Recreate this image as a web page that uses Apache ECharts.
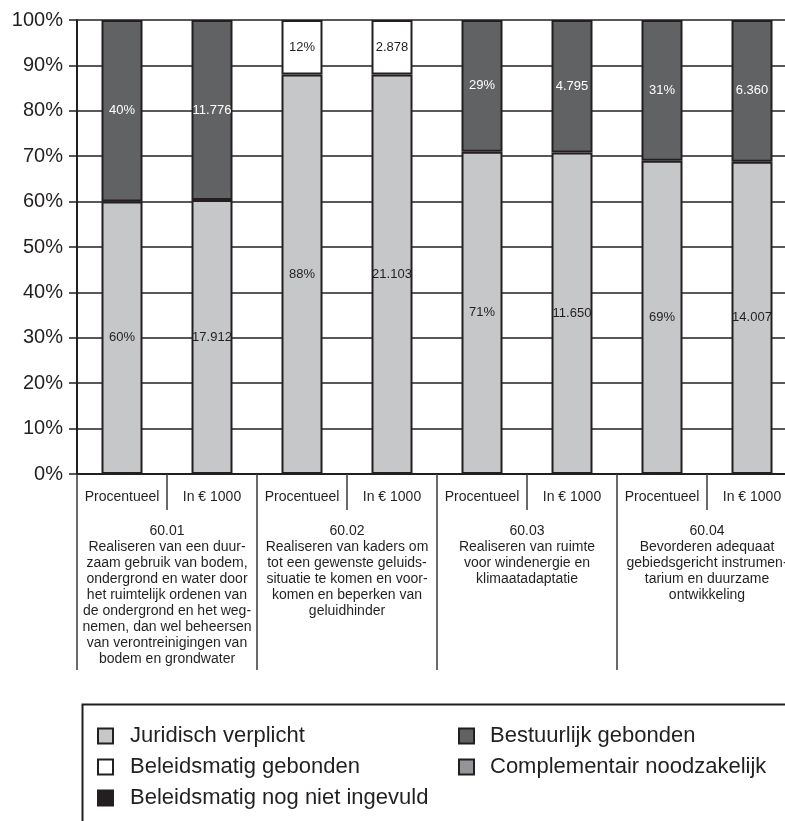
<!DOCTYPE html>
<html>
<head>
<meta charset="utf-8">
<script src="https://cdn.jsdelivr.net/npm/echarts@6/dist/echarts.min.js"></script>
<style>
  html, body { margin: 0; padding: 0; background: #fff; }
  #main { width: 785px; height: 821px; }
</style>
</head>
<body>
<div id="main"></div>
<script>
// categorieën
const subLabels = ['Procentueel', 'In € 1000'];
const groups = [
  '60.01\nRealiseren van een duur-\nzaam gebruik van bodem,\nondergrond en water door\nhet ruimtelijk ordenen van\nde ondergrond en het weg-\nnemen, dan wel beheersen\nvan verontreinigingen van\nbodem en grondwater',
  '60.02\nRealiseren van kaders om\ntot een gewenste geluids-\nsituatie te komen en voor-\nkomen en beperken van\ngeluidhinder',
  '60.03\nRealiseren van ruimte\nvoor windenergie en\nklimaatadaptatie',
  '60.04\nBevorderen adequaat\ngebiedsgericht instrumen-\ntarium en duurzame\nontwikkeling'
];

// procentueel
const juridischPct = [60, 88, 71, 69];
const bestuurlijkPct = [40, null, 29, 31];
const beleidsPct = [null, 12, null, null];

// in € 1000
const juridischBedrag = [17912, 21103, 11650, 14007];
const bestuurlijkBedrag = [11776, null, 4795, 6360];
const beleidsBedrag = [null, 2878, null, null];

const ink = '#231f20';
const font = 'Liberation Sans, Arial, sans-serif';

const categories = [];
groups.forEach(function () { categories.push(subLabels[0], subLabels[1]); });

function totaal(i) {
  return (juridischBedrag[i] || 0) + (bestuurlijkBedrag[i] || 0) + (beleidsBedrag[i] || 0);
}

function bouw(pct, bedrag) {
  const out = [];
  for (let i = 0; i < groups.length; i++) {
    out.push(pct[i] == null ? null : { value: pct[i], label: pct[i] + '%' });
    out.push(bedrag[i] == null ? null : {
      value: bedrag[i] / totaal(i) * 100,
      label: Math.floor(bedrag[i] / 1000) + '.' + String(bedrag[i] % 1000).padStart(3, '0')
    });
  }
  return out;
}

function serie(naam, kleur, tekstkleur, data) {
  return {
    name: naam,
    type: 'bar',
    stack: 'a',
    barWidth: 41,
    itemStyle: { color: kleur, borderColor: ink, borderWidth: 2 },
    label: {
      show: true,
      position: 'inside',
      color: tekstkleur,
      fontSize: 13,
      fontFamily: font,
      formatter: function (p) { return p.data ? p.data.label : ''; }
    },
    data: data
  };
}

const legendText = { color: ink, fontSize: 22, fontFamily: font, lineHeight: 22 };

const myChart = echarts.init(document.getElementById('main'));

const option = {
  animation: false,
  backgroundColor: '#fff',
  grid: { left: 77, top: 20, width: 720, height: 454, outerBoundsMode: 'none' },
  xAxis: [
    {
      type: 'category',
      data: categories,
      axisLine: { lineStyle: { color: ink, width: 2 } },
      axisTick: { show: true, interval: 0, length: 36, lineStyle: { color: '#3a3a3a', width: 1.5 } },
      axisLabel: { color: ink, fontSize: 14, fontFamily: font, margin: 16, interval: 0 }
    },
    {
      type: 'category',
      position: 'bottom',
      offset: 0,
      data: groups,
      axisLine: { show: false },
      axisTick: { show: true, interval: 0, length: 196, lineStyle: { color: '#3a3a3a', width: 1.5 } },
      axisLabel: {
        color: ink, fontSize: 14, fontFamily: font, margin: 49,
        lineHeight: 16, verticalAlign: 'top', interval: 0
      }
    }
  ],
  yAxis: {
    type: 'value',
    min: 0,
    max: 100,
    interval: 10,
    axisLine: { show: true, lineStyle: { color: ink, width: 2 } },
    axisTick: { show: true, length: 8, lineStyle: { color: ink, width: 1.5 } },
    axisLabel: { formatter: '{value}%', color: ink, fontSize: 20, fontFamily: font, margin: 14 },
    splitLine: { lineStyle: { color: ink, width: 1.5 } }
  },
  legend: [
    {
      data: ['Juridisch verplicht', 'Beleidsmatig gebonden', 'Beleidsmatig nog niet ingevuld'],
      orient: 'vertical',
      left: 97,
      top: 725,
      padding: 0,
      icon: 'rect',
      itemWidth: 15,
      itemHeight: 15,
      itemGap: 9,
      itemStyle: { borderColor: ink, borderWidth: 2 },
      textStyle: Object.assign({ padding: [0, 0, 0, 12] }, legendText)
    },
    {
      data: ['Bestuurlijk gebonden', 'Complementair noodzakelijk'],
      orient: 'vertical',
      left: 458,
      top: 725,
      padding: 0,
      icon: 'rect',
      itemWidth: 15,
      itemHeight: 15,
      itemGap: 9,
      itemStyle: { borderColor: ink, borderWidth: 2 },
      textStyle: Object.assign({ padding: [0, 0, 0, 11] }, legendText)
    }
  ],
  graphic: [
    {
      type: 'rect',
      left: 80,
      top: 702,
      shape: { width: 760, height: 160 },
      style: { fill: 'none', stroke: ink, lineWidth: 2 }
    }
  ],
  series: [
    serie('Juridisch verplicht', '#c6c7c8', ink, bouw(juridischPct, juridischBedrag)),
    serie('Bestuurlijk gebonden', '#616264', '#fff', bouw(bestuurlijkPct, bestuurlijkBedrag)),
    serie('Beleidsmatig gebonden', '#ffffff', ink, bouw(beleidsPct, beleidsBedrag)),
    serie('Complementair noodzakelijk', '#939598', ink, []),
    serie('Beleidsmatig nog niet ingevuld', ink, '#fff', [])
  ]
};

myChart.setOption(option);
</script>
</body>
</html>
